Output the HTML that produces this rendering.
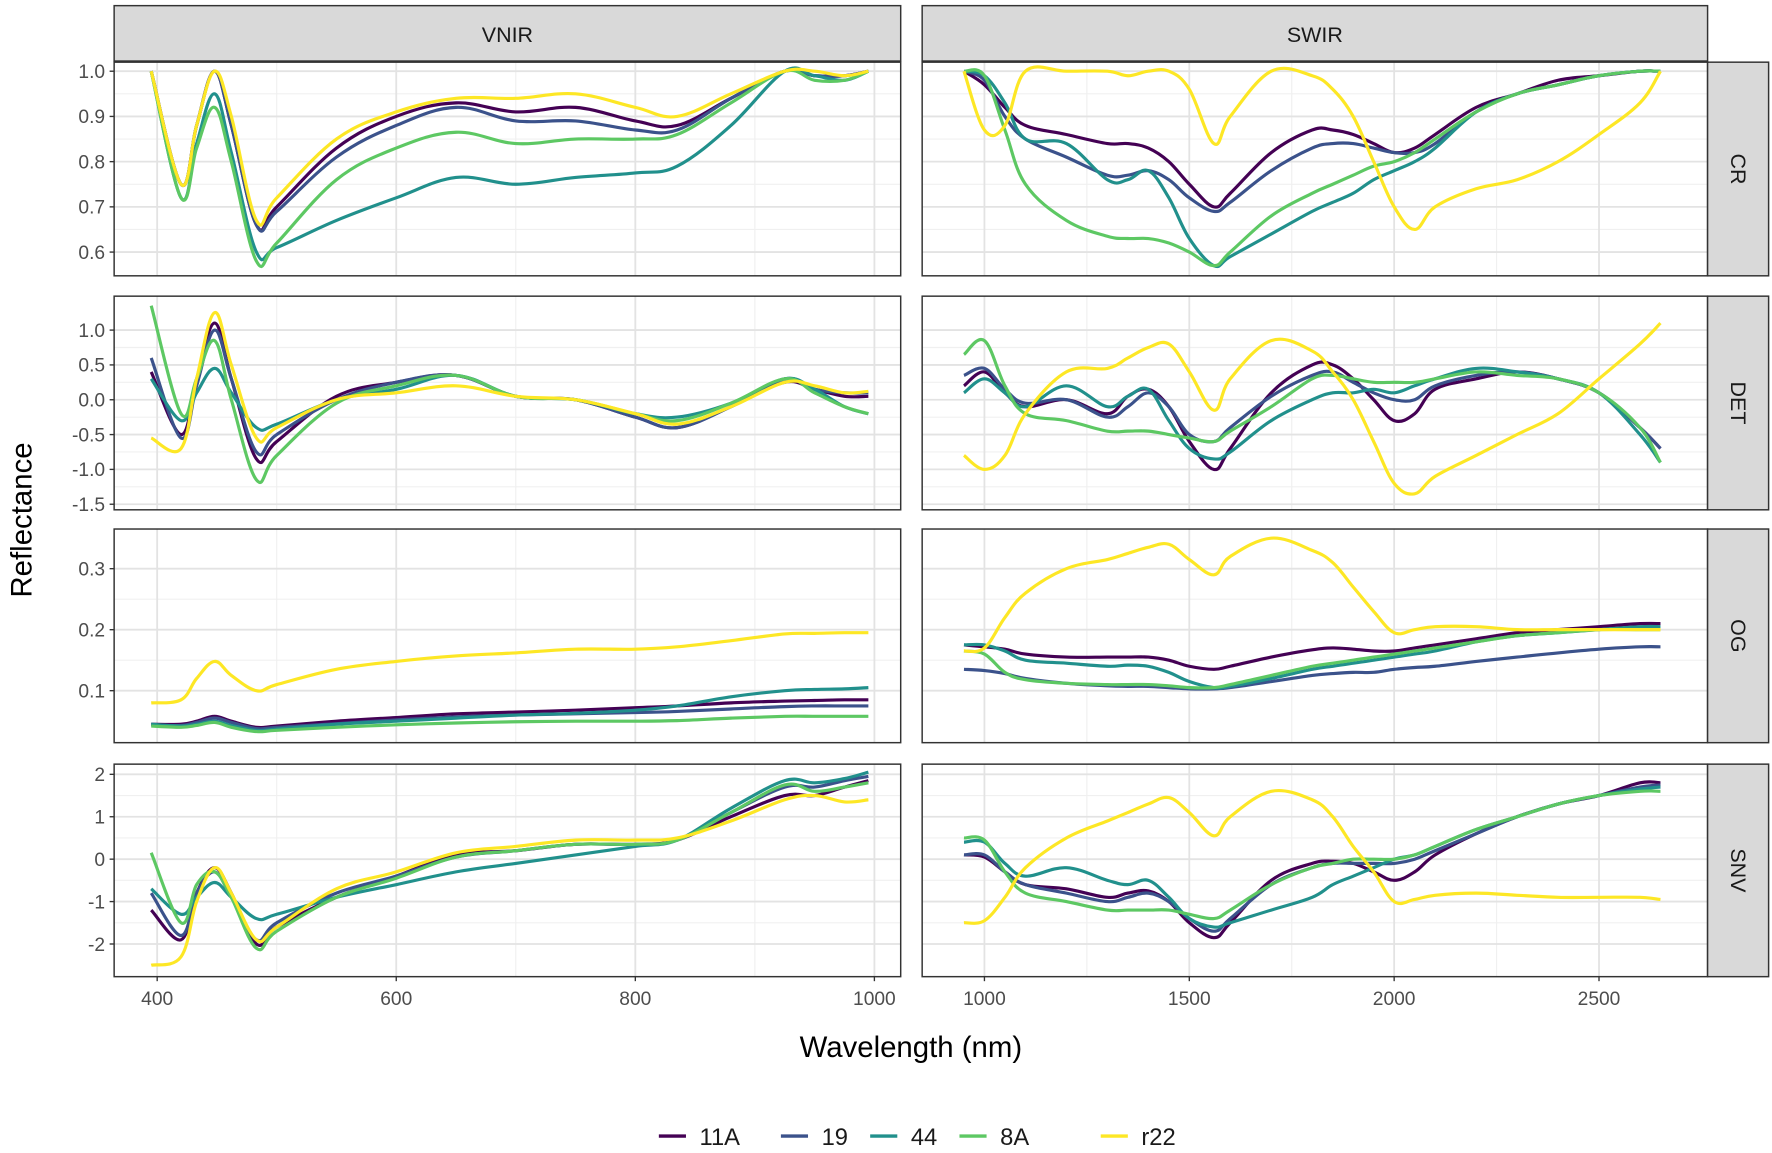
<!DOCTYPE html>
<html><head><meta charset="utf-8"><style>
html,body{margin:0;padding:0;background:#fff;}
svg{display:block;font-family:"Liberation Sans",sans-serif;}
</style></head><body>
<svg id="chart" width="1772" height="1153" viewBox="0 0 1568 1020" preserveAspectRatio="none" xmlns="http://www.w3.org/2000/svg"></svg>
<script>
const seriesNames=["11A","19","44","8A","r22"];
const seriesColors=["#440154","#3b528b","#21908c","#5dc863","#fde725"];
const rowNames=["CR","DET","OG","SNV"];
const vnirWl=[395,420,433,448,462,483,500,550,600,650,700,750,800,835,880,925,950,975,995];
const swirWl=[950,1000,1050,1100,1200,1300,1350,1400,1450,1500,1560,1600,1700,1800,1850,1900,1950,2000,2050,2100,2200,2300,2400,2500,2600,2650];
const crVnir={
"11A":[1.0,0.75,0.88,1.0,0.88,0.66,0.7,0.83,0.9,0.93,0.91,0.92,0.89,0.88,0.94,1.0,0.99,0.99,1.0],
"19":[1.0,0.75,0.88,1.0,0.88,0.66,0.69,0.81,0.88,0.92,0.89,0.89,0.87,0.87,0.94,1.0,0.99,0.99,1.0],
"44":[1.0,0.72,0.84,0.95,0.82,0.6,0.61,0.67,0.72,0.765,0.75,0.765,0.775,0.79,0.88,1.0,0.99,0.98,1.0],
"8A":[1.0,0.72,0.83,0.92,0.8,0.58,0.62,0.76,0.83,0.865,0.84,0.85,0.85,0.86,0.93,1.0,0.98,0.98,1.0],
"r22":[1.0,0.75,0.88,1.0,0.9,0.67,0.72,0.85,0.91,0.94,0.94,0.95,0.92,0.9,0.95,1.0,1.0,0.99,1.0]};
const detVnir={
"11A":[0.4,-0.5,0.3,1.1,0.3,-0.85,-0.6,0.05,0.25,0.35,0.05,0.0,-0.25,-0.4,-0.1,0.25,0.15,0.05,0.05],
"19":[0.6,-0.55,0.2,1.0,0.3,-0.75,-0.5,0.0,0.25,0.35,0.05,0.0,-0.25,-0.4,-0.1,0.3,0.15,0.1,0.1],
"44":[0.3,-0.3,0.1,0.45,0.1,-0.4,-0.35,0.0,0.15,0.35,0.05,0.0,-0.2,-0.25,-0.05,0.3,0.15,-0.1,-0.2],
"8A":[1.35,-0.2,0.3,0.85,0.0,-1.15,-0.8,-0.05,0.2,0.35,0.05,0.0,-0.2,-0.3,-0.05,0.3,0.1,-0.1,-0.2],
"r22":[-0.55,-0.7,0.3,1.25,0.5,-0.55,-0.4,0.0,0.1,0.2,0.05,0.0,-0.2,-0.35,-0.1,0.25,0.2,0.1,0.12]};
const ogVnir={
"11A":[0.045,0.045,0.05,0.058,0.05,0.04,0.042,0.05,0.056,0.062,0.065,0.068,0.072,0.075,0.08,0.083,0.084,0.085,0.085],
"19":[0.044,0.043,0.048,0.055,0.048,0.038,0.04,0.046,0.052,0.057,0.06,0.062,0.064,0.066,0.07,0.074,0.075,0.075,0.075],
"44":[0.045,0.042,0.045,0.05,0.043,0.035,0.037,0.045,0.05,0.055,0.06,0.063,0.068,0.075,0.09,0.1,0.102,0.103,0.105],
"8A":[0.042,0.04,0.043,0.048,0.04,0.033,0.035,0.04,0.044,0.047,0.049,0.05,0.05,0.051,0.055,0.058,0.058,0.058,0.058],
"r22":[0.08,0.085,0.12,0.148,0.125,0.1,0.11,0.135,0.148,0.157,0.162,0.168,0.168,0.172,0.182,0.193,0.194,0.195,0.195]};
const snvVnir={
"11A":[-1.2,-1.9,-0.8,-0.2,-0.8,-2.0,-1.6,-0.9,-0.4,0.1,0.2,0.35,0.35,0.45,1.0,1.5,1.5,1.7,1.85],
"19":[-0.8,-1.8,-0.8,-0.3,-0.9,-1.9,-1.5,-0.8,-0.4,0.05,0.2,0.35,0.35,0.45,1.1,1.7,1.7,1.85,1.95],
"44":[-0.7,-1.3,-0.9,-0.55,-0.9,-1.4,-1.3,-0.9,-0.6,-0.3,-0.1,0.1,0.3,0.45,1.2,1.85,1.8,1.9,2.05],
"8A":[0.15,-1.5,-0.6,-0.3,-0.9,-2.1,-1.7,-0.9,-0.45,0.05,0.2,0.35,0.35,0.45,1.1,1.75,1.6,1.7,1.8],
"r22":[-2.5,-2.3,-1,-0.2,-0.8,-1.9,-1.6,-0.7,-0.3,0.15,0.3,0.45,0.45,0.5,0.9,1.4,1.5,1.35,1.4]};
const crSwir={
"11A":[1.0,0.97,0.92,0.88,0.86,0.84,0.84,0.83,0.8,0.75,0.7,0.73,0.82,0.87,0.87,0.86,0.84,0.82,0.83,0.86,0.92,0.95,0.98,0.99,1.0,1.0],
"19":[1.0,0.98,0.9,0.85,0.81,0.77,0.77,0.78,0.76,0.72,0.69,0.71,0.78,0.83,0.84,0.84,0.83,0.82,0.82,0.84,0.91,0.95,0.97,0.99,1.0,1.0],
"44":[1.0,0.99,0.93,0.85,0.84,0.76,0.76,0.78,0.72,0.63,0.57,0.59,0.64,0.69,0.71,0.73,0.76,0.78,0.8,0.83,0.91,0.95,0.97,0.99,1.0,1.0],
"8A":[1.0,0.99,0.87,0.75,0.67,0.635,0.63,0.63,0.62,0.6,0.57,0.6,0.68,0.73,0.75,0.77,0.79,0.8,0.82,0.85,0.91,0.95,0.97,0.99,1.0,1.0],
"r22":[1.0,0.87,0.88,1.0,1.0,1.0,0.99,1.0,1.0,0.96,0.84,0.9,1.0,0.99,0.96,0.9,0.8,0.7,0.65,0.7,0.74,0.76,0.8,0.86,0.93,1.0]};
const detSwir={
"11A":[0.2,0.4,0.1,-0.1,0.0,-0.2,0.05,0.15,-0.1,-0.6,-1.0,-0.7,0.1,0.5,0.5,0.3,0.0,-0.3,-0.2,0.15,0.3,0.4,0.3,0.1,-0.4,-0.7],
"19":[0.35,0.45,0.15,-0.05,0.0,-0.25,-0.1,0.1,-0.1,-0.5,-0.6,-0.4,0.05,0.35,0.4,0.25,0.1,0.0,0.0,0.2,0.35,0.4,0.3,0.1,-0.4,-0.7],
"44":[0.1,0.3,0.1,-0.1,0.2,-0.1,0.05,0.15,-0.3,-0.7,-0.85,-0.75,-0.3,0.0,0.1,0.1,0.15,0.1,0.2,0.3,0.45,0.4,0.3,0.1,-0.5,-0.9],
"8A":[0.65,0.85,0.2,-0.2,-0.3,-0.45,-0.45,-0.45,-0.5,-0.55,-0.6,-0.45,-0.1,0.3,0.35,0.3,0.25,0.25,0.25,0.3,0.4,0.35,0.3,0.1,-0.4,-0.9],
"r22":[-0.8,-1.0,-0.8,-0.2,0.4,0.45,0.6,0.75,0.8,0.4,-0.15,0.3,0.85,0.7,0.4,0.0,-0.6,-1.2,-1.35,-1.1,-0.8,-0.5,-0.2,0.3,0.8,1.1]};
const ogSwir={
"11A":[0.175,0.172,0.168,0.16,0.155,0.155,0.155,0.155,0.15,0.14,0.135,0.14,0.155,0.167,0.17,0.168,0.165,0.165,0.17,0.175,0.185,0.195,0.2,0.205,0.21,0.21],
"19":[0.135,0.133,0.128,0.12,0.112,0.108,0.107,0.107,0.105,0.103,0.103,0.105,0.115,0.125,0.128,0.13,0.13,0.135,0.138,0.14,0.148,0.155,0.162,0.168,0.172,0.172],
"44":[0.175,0.175,0.165,0.15,0.145,0.14,0.142,0.14,0.13,0.115,0.105,0.107,0.12,0.135,0.14,0.145,0.15,0.155,0.16,0.165,0.18,0.19,0.195,0.2,0.205,0.205],
"8A":[0.165,0.16,0.13,0.118,0.112,0.11,0.11,0.11,0.108,0.105,0.105,0.11,0.125,0.14,0.145,0.15,0.155,0.16,0.165,0.17,0.18,0.19,0.195,0.2,0.2,0.2],
"r22":[0.165,0.17,0.22,0.26,0.3,0.315,0.325,0.335,0.34,0.315,0.29,0.32,0.35,0.33,0.31,0.27,0.23,0.195,0.2,0.205,0.205,0.2,0.2,0.2,0.2,0.2]};
const snvSwir={
"11A":[0.1,0.05,-0.3,-0.6,-0.7,-0.9,-0.8,-0.75,-1.0,-1.5,-1.85,-1.5,-0.5,-0.1,-0.05,-0.1,-0.3,-0.5,-0.3,0.1,0.6,1.0,1.3,1.5,1.8,1.8],
"19":[0.1,0.1,-0.3,-0.6,-0.8,-1.0,-0.9,-0.8,-1.0,-1.4,-1.7,-1.4,-0.6,-0.2,-0.1,-0.1,-0.1,-0.1,0.0,0.2,0.6,1.0,1.3,1.5,1.7,1.75],
"44":[0.4,0.4,-0.1,-0.4,-0.2,-0.5,-0.6,-0.5,-0.9,-1.4,-1.6,-1.5,-1.2,-0.9,-0.6,-0.4,-0.2,0.0,0.1,0.3,0.7,1.0,1.3,1.5,1.65,1.7],
"8A":[0.5,0.45,-0.3,-0.8,-1.0,-1.2,-1.2,-1.2,-1.2,-1.3,-1.4,-1.2,-0.6,-0.2,-0.1,0.0,0.0,0.0,0.1,0.3,0.7,1.0,1.3,1.5,1.6,1.6],
"r22":[-1.5,-1.45,-0.9,-0.2,0.5,0.9,1.1,1.3,1.45,1.1,0.55,1.0,1.6,1.4,1.0,0.3,-0.3,-1.0,-0.95,-0.85,-0.8,-0.85,-0.9,-0.9,-0.9,-0.95]};
const vnirTicks=[400,600,800,1000];
const swirTicks=[1000,1500,2000,2500];
const crTicks=[0.6,0.7,0.8,0.9,1.0];
const detTicks=[-1.5,-1.0,-0.5,0.0,0.5,1.0];
const ogTicks=[0.1,0.2,0.3];
const snvTicks=[-2,-1,0,1,2];

const NS="http://www.w3.org/2000/svg";
const svg=document.getElementById('chart');
function mk(tag,attrs,parent){const e=document.createElementNS(NS,tag);for(const k in attrs)e.setAttribute(k,attrs[k]);(parent||svg).appendChild(e);return e;}
function smoothPath(P){
  let d='M'+P[0][0].toFixed(1)+','+P[0][1].toFixed(1);
  for(let i=0;i<P.length-1;i++){
    const p0=P[Math.max(0,i-1)],p1=P[i],p2=P[i+1],p3=P[Math.min(P.length-1,i+2)];
    const t=0.18;
    const c1=[p1[0]+(p2[0]-p0[0])*t,p1[1]+(p2[1]-p0[1])*t];
    const c2=[p2[0]-(p3[0]-p1[0])*t,p2[1]-(p3[1]-p1[1])*t];
    d+=' C'+c1[0].toFixed(1)+','+c1[1].toFixed(1)+' '+c2[0].toFixed(1)+','+c2[1].toFixed(1)+' '+p2[0].toFixed(1)+','+p2[1].toFixed(1);
  }
  return d;
}
const cols=[{x0:101,x1:797,d0:364,d1:1022,wl:vnirWl,ticks:vnirTicks,data:[crVnir,detVnir,ogVnir,snvVnir],name:"VNIR"},
            {x0:816,x1:1511,d0:848,d1:2765,wl:swirWl,ticks:swirTicks,data:[crSwir,detSwir,ogSwir,snvSwir],name:"SWIR"}];
const rows=[{y0:55,y1:244,d0:1.02,d1:0.5475,ticks:crTicks,fmt:v=>v.toFixed(1)},
            {y0:262,y1:451,d0:1.487,d1:-1.58,ticks:detTicks,fmt:v=>v.toFixed(1)},
            {y0:468,y1:657,d0:0.365,d1:0.0148,ticks:ogTicks,fmt:v=>v.toFixed(1)},
            {y0:676,y1:864,d0:2.24,d1:-2.77,ticks:snvTicks,fmt:v=>String(v)}];
function sx(c,v){return c.x0+(v-c.d0)/(c.d1-c.d0)*(c.x1-c.x0);}
function sy(r,v){return r.y0+(r.d0-v)/(r.d0-r.d1)*(r.y1-r.y0);}

cols.forEach((c,ci)=>{
  const strip=mk('g',{});
  
  
  mk('rect',{x:c.x0,y:5,width:c.x1-c.x0,height:49,fill:'#d9d9d9',stroke:'#333','stroke-width':1.3},strip);
  const t=mk('text',{x:(c.x0+c.x1)/2,y:37,'text-anchor':'middle','font-size':19,fill:'#1a1a1a'},strip);t.textContent=c.name;
  rows.forEach((r,ri)=>{
    const p=mk('g',{});
    
    
    mk('rect',{x:c.x0,y:r.y0,width:c.x1-c.x0,height:r.y1-r.y0,fill:'#fff'},p);
    for(let i=0;i<r.ticks.length-1;i++){const m=(r.ticks[i]+r.ticks[i+1])/2;const y=sy(r,m);mk('line',{x1:c.x0,x2:c.x1,y1:y,y2:y,stroke:'#f0f0f0','stroke-width':1},p);}
    for(let i=0;i<c.ticks.length-1;i++){const m=(c.ticks[i]+c.ticks[i+1])/2;const x=sx(c,m);mk('line',{x1:x,x2:x,y1:r.y0,y2:r.y1,stroke:'#f0f0f0','stroke-width':1},p);}
    r.ticks.forEach(v=>{const y=sy(r,v);mk('line',{x1:c.x0,x2:c.x1,y1:y,y2:y,stroke:'#e3e3e3','stroke-width':1.6},p);});
    c.ticks.forEach(v=>{const x=sx(c,v);mk('line',{x1:x,x2:x,y1:r.y0,y2:r.y1,stroke:'#e3e3e3','stroke-width':1.6},p);});
    seriesNames.forEach((s,si)=>{
      const vals=c.data[ri][s];
      const P=c.wl.map((w,i)=>[sx(c,w),sy(r,vals[i])]);
      const pl=mk('path',{d:smoothPath(P),fill:'none',stroke:seriesColors[si],'stroke-width':2.8,'stroke-linejoin':'round'},p);
      
      
    });
    mk('rect',{x:c.x0,y:r.y0,width:c.x1-c.x0,height:r.y1-r.y0,fill:'none',stroke:'#333','stroke-width':1.3},p);
    if(ci===0){
      r.ticks.forEach(v=>{const y=sy(r,v);
        mk('line',{x1:c.x0-4,x2:c.x0,y1:y,y2:y,stroke:'#333','stroke-width':1.2},p);
        const tt=mk('text',{x:c.x0-8,y:y+6,'text-anchor':'end','font-size':17,fill:'#4d4d4d'},p);tt.textContent=r.fmt(v);
        });
    }
    if(ci===1){
      const rs=mk('g',{});
      
      
      mk('rect',{x:1511,y:r.y0,width:54,height:r.y1-r.y0,fill:'#d9d9d9',stroke:'#333','stroke-width':1.3},rs);
      const cx=1538,cy=(r.y0+r.y1)/2;
      const tt=mk('text',{x:cx,y:cy,'text-anchor':'middle','dominant-baseline':'central','font-size':19,fill:'#1a1a1a',transform:`rotate(90 ${cx} ${cy})`},rs);tt.textContent=rowNames[ri];
    }
    if(ri===3){
      c.ticks.forEach(v=>{const x=sx(c,v);
        mk('line',{x1:x,x2:x,y1:r.y1,y2:r.y1+4,stroke:'#333','stroke-width':1.2},p);
        const tt=mk('text',{x:x,y:r.y1+25,'text-anchor':'middle','font-size':17,fill:'#4d4d4d'},p);tt.textContent=v;
        });
    }
  });
});
const xt=mk('text',{x:806,y:935,'text-anchor':'middle','font-size':26,fill:'#000'});xt.textContent='Wavelength (nm)';

const yt=mk('text',{x:28,y:460,'text-anchor':'middle','font-size':26,fill:'#000',transform:'rotate(-90 28 460)'});yt.textContent='Reflectance';

const legX=[583,691,770,849,974];
const lg=mk('g',{});


seriesNames.forEach((s,i)=>{
  const e=mk('g',{},lg);
  
  
  mk('line',{x1:legX[i],x2:legX[i]+24,y1:1005,y2:1005,stroke:seriesColors[i],'stroke-width':3},e);
  const t=mk('text',{x:legX[i]+36,y:1013,'font-size':21,fill:'#1a1a1a'},e);t.textContent=s;
});
</script>
</body></html>
